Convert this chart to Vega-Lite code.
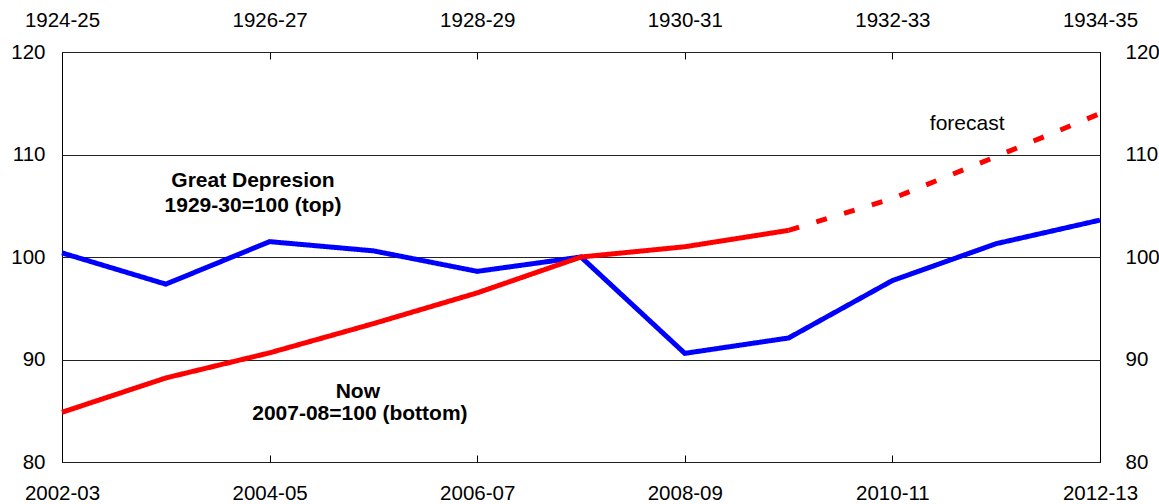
{
  "$schema": "https://vega.github.io/schema/vega-lite/v6.json",
  "width": 1038,
  "height": 410,
  "autosize": {"type": "none"},
  "padding": {"left": 62, "top": 52, "right": 59, "bottom": 42},
  "config": {
    "font": "Liberation Sans",
    "view": {"stroke": "black", "strokeWidth": 1},
    "axis": {"labelFont": "Liberation Sans", "labelFontSize": 20.5, "labelColor": "black", "domain": false, "tickColor": "black", "title": null}
  },
  "layer": [
    {
      "data": {"values": [
        {"series": "Great Depression", "part": "actual", "idx": 0, "value": 100.4},
        {"series": "Great Depression", "part": "actual", "idx": 1, "value": 97.35},
        {"series": "Great Depression", "part": "actual", "idx": 2, "value": 101.5},
        {"series": "Great Depression", "part": "actual", "idx": 3, "value": 100.6},
        {"series": "Great Depression", "part": "actual", "idx": 4, "value": 98.6},
        {"series": "Great Depression", "part": "actual", "idx": 5, "value": 100.0},
        {"series": "Great Depression", "part": "actual", "idx": 6, "value": 90.6},
        {"series": "Great Depression", "part": "actual", "idx": 7, "value": 92.1},
        {"series": "Great Depression", "part": "actual", "idx": 8, "value": 97.7},
        {"series": "Great Depression", "part": "actual", "idx": 9, "value": 101.3},
        {"series": "Great Depression", "part": "actual", "idx": 10, "value": 103.6},
        {"series": "Now", "part": "actual", "idx": 0, "value": 84.85},
        {"series": "Now", "part": "actual", "idx": 1, "value": 88.2},
        {"series": "Now", "part": "actual", "idx": 2, "value": 90.65},
        {"series": "Now", "part": "actual", "idx": 3, "value": 93.5},
        {"series": "Now", "part": "actual", "idx": 4, "value": 96.5},
        {"series": "Now", "part": "actual", "idx": 5, "value": 100.0},
        {"series": "Now", "part": "actual", "idx": 6, "value": 101.0},
        {"series": "Now", "part": "actual", "idx": 7, "value": 102.6},
        {"series": "Now", "part": "forecast", "idx": 7, "value": 102.6},
        {"series": "Now", "part": "forecast", "idx": 8, "value": 105.7},
        {"series": "Now", "part": "forecast", "idx": 9, "value": 109.8},
        {"series": "Now", "part": "forecast", "idx": 10, "value": 114.0}
      ]},
      "mark": {"type": "line", "strokeWidth": 5, "strokeCap": "butt", "strokeJoin": "miter"},
      "encoding": {
        "x": {
          "field": "idx", "type": "quantitative",
          "scale": {"domain": [0, 10], "nice": false, "zero": false},
          "axis": {
            "orient": "bottom", "values": [0, 2, 4, 6, 8, 10], "grid": false,
            "tickSize": -7, "labelPadding": 28, "labelFlush": false,
            "labelExpr": "['2002-03','2003-04','2004-05','2005-06','2006-07','2007-08','2008-09','2009-10','2010-11','2011-12','2012-13'][datum.value]"
          }
        },
        "y": {
          "field": "value", "type": "quantitative",
          "scale": {"domain": [80, 120], "nice": false, "zero": false},
          "axis": {"orient": "left", "values": [80, 90, 100, 110, 120], "grid": true, "gridColor": "#222", "gridOpacity": 1, "gridWidth": 1, "ticks": false, "labelPadding": 17}
        },
        "color": {"field": "series", "type": "nominal", "scale": {"domain": ["Great Depression", "Now"], "range": ["#0000ff", "#ff0000"]}, "legend": null},
        "strokeDash": {"field": "part", "type": "nominal", "scale": {"domain": ["actual", "forecast"], "range": [[1, 0], [11, 18]]}, "legend": null},
        "order": {"field": "idx", "type": "quantitative"}
      }
    },
    {
      "data": {"values": [
        {"label": "Great Depresion", "idx": 1.84, "value": 107.4},
        {"label": "1929-30=100 (top)", "idx": 1.84, "value": 105.0},
        {"label": "Now", "idx": 2.85, "value": 86.8},
        {"label": "2007-08=100 (bottom)", "idx": 2.87, "value": 84.7}
      ]},
      "mark": {"type": "text", "fontSize": 21, "fontWeight": "bold", "align": "center", "baseline": "middle", "color": "black"},
      "encoding": {
        "x": {
          "field": "idx", "type": "quantitative",
          "axis": {
            "orient": "top", "values": [0, 2, 4, 6, 8, 10], "grid": false,
            "tickSize": -7, "labelPadding": 29, "labelFlush": false,
            "labelExpr": "['1924-25','1925-26','1926-27','1927-28','1928-29','1929-30','1930-31','1931-32','1932-33','1933-34','1934-35'][datum.value]"
          }
        },
        "y": {
          "field": "value", "type": "quantitative",
          "axis": {"orient": "right", "values": [80, 90, 100, 110, 120], "grid": false, "ticks": false, "labelPadding": 25}
        },
        "text": {"field": "label"}
      }
    },
    {
      "data": {"values": [
        {"label": "forecast", "idx": 8.72, "value": 112.95}
      ]},
      "mark": {"type": "text", "fontSize": 21, "align": "center", "baseline": "middle", "color": "black"},
      "encoding": {
        "x": {"field": "idx", "type": "quantitative", "axis": null},
        "y": {"field": "value", "type": "quantitative", "axis": null},
        "text": {"field": "label"}
      }
    }
  ],
  "resolve": {"axis": {"x": "independent", "y": "independent"}}
}
